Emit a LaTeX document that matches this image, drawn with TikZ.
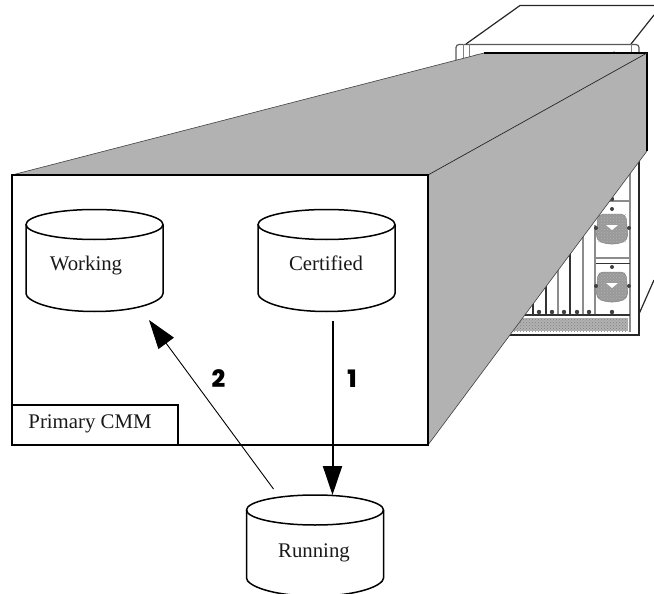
\documentclass[tikz,border=0pt]{standalone}
\usepackage{fontspec}
\setmainfont{Liberation Serif}
\newfontfamily\numfont{Poppins}[BoldFont={Poppins ExtraBold}]
\usetikzlibrary{arrows.meta,patterns,calc}
\definecolor{panelgray}{HTML}{B2B2B2}
\definecolor{spark}{HTML}{E8A060}
\newcommand{\dbdraw}[2]{%
  \draw[dbline] ($(#1.north west)+(0,15)$) -- ($(#1.south west)+(0,-#2)$)
     .. controls +(0,7) and ($(#1.south)+(-45,0)$) .. (#1.south)
     .. controls ($(#1.south)+(45,0)$) and ($(#1.south east)+(0,-#2+7)$) .. ($(#1.south east)+(0,-#2)$)
     -- ($(#1.north east)+(0,15)$);
  \draw[dbline] ($(#1.north)+(0,15)$) ellipse [x radius=68.5pt,y radius=15pt];
}
\tikzset{
  db/.style={draw=none,minimum width=137pt,inner sep=0pt,outer sep=0pt},
  dbline/.style={draw=black,line width=1.5pt},
  txt/.style={font=\fontsize{20.8}{23}\selectfont,text=black!90,inner sep=0pt,anchor=base},
  num/.style={font=\numfont\bfseries\fontsize{24}{26}\selectfont,inner sep=0pt},
  frame/.style={draw=black,line width=2pt,inner sep=0pt,outer sep=0pt},
  hwdark/.style={draw=black!80,line width=1.3pt},
  hwpale/.style={draw=black!45,line width=1.5pt},
  knob/.style={fill=black!75,draw=none},
  fan/.style={fill=black!40,draw=black!50,line width=.5pt,rounded corners=5pt},
}
\begin{document}
\begin{tikzpicture}[x=1pt,y=-1pt]
\useasboundingbox (0,0) rectangle (654,594);
% chassis
\draw[draw=black!65,line width=1.2pt,rounded corners=3pt] (456,70) -- (456,44.5) -- (639,44.5) -- (639,60);
\draw[draw=black!85,line width=1.2pt] (466,44) -- (520,5.5) -- (654,5.5);
\draw[draw=black!85,line width=1.2pt] (631,44) -- (654,15);
\draw[draw=black!50,line width=.6pt] (463,44) -- (463,60) (469,44) -- (469,60) (631,44) -- (631,60);
\draw[draw=black!85,line width=1.2pt] (639,150) -- (639,335) -- (500,335);
\draw[draw=black!85,line width=1.2pt] (639,314) -- (654,280);
\draw[hwpale] (630,150) -- (630,332);
\draw[hwpale] (600,201) -- (630,201);
\draw[hwpale] (595,258) -- (630,258);
\draw[hwdark] (595,263.5) -- (630,263.5);
\draw[hwpale] (595,225) -- (595,315);
\draw[hwpale] (583,225) -- (583,315);
\draw[hwdark] (570,250) -- (570,315);
\draw[hwpale] (558,270) -- (558,315);
\draw[hwdark] (546,285) -- (546,315);
\draw[hwdark] (533,300) -- (533,315);
\draw[hwdark] (520,315) -- (630,315);
\fill[black!30] (508,318) rectangle (628,331);
\fill[pattern=crosshatch dots,pattern color=black!50] (508,318) rectangle (628,331);
\foreach \cy in {228,286}{
  \fill[fan] (598,\cy-14) -- (626,\cy-14) -- (628,\cy+12) -- (618,\cy+16) -- (606,\cy+16) -- (596,\cy+12) -- cycle;
  \fill[pattern=crosshatch dots,pattern color=black!30] (598,\cy-14) rectangle (626,\cy+14);
  \fill[white] (606,\cy-3) -- (618,\cy-3) -- (612,\cy+2) -- cycle;
  \fill[knob] (612,\cy-19) circle (2pt);
  \fill[knob] (596,\cy) circle (2pt);
  \fill[knob] (629,\cy) circle (2pt);
}
\fill[knob] (612,312) circle (2.2pt);
\fill[knob] (612,199) circle (2.2pt);
\foreach \kx in {539,552,564,577,589}{\fill[knob] (\kx,312) circle (2.2pt);}
\fill[spark] (476,55) circle (1pt);
\fill[spark] (614,52) circle (1pt);
% shaded projection
\fill[panelgray] (12,175) -- (484,53) -- (647,53) -- (647,151) -- (428,445) -- cycle;
\draw[draw=black!75,line width=.6pt] (12,175) -- (484,53);
\draw[draw=black,line width=1.2pt] (484,53) -- (647,53) -- (647,151);
\draw[draw=black!75,line width=.6pt] (647,151) -- (428,445);
\draw[draw=black!85,line width=.7pt] (647,53) -- (428,175);
% primary CMM frame
\node[frame,fill=white,minimum width=416pt,minimum height=270pt] (cmm) at (220,310) {};
\node[frame,minimum width=166pt,minimum height=40pt] (tag) at (95,425) {};
\node[txt] (taglabel) at (90,428) {Primary CMM};
% databases
\node[db,minimum height=102pt] (working) at (94.5,260.5) {};
\node[db,minimum height=102pt] (certified) at (326.5,260.5) {};
\node[db,minimum height=101pt] (running) at (315,545.5) {};
\dbdraw{working}{18}
\dbdraw{certified}{18}
\dbdraw{running}{18}
\node[txt] (worklabel) at (86,270) {Working};
\node[txt] (certlabel) at (326,270) {Certified};
\node[txt] (runlabel) at (314,557) {Running};
% connectors
\coordinate (oneA) at (332.5,321);
\coordinate (oneB) at (332.5,495);
\coordinate (twoA) at (273.5,489);
\coordinate (twoB) at (149,320);
\draw[line width=2pt,-{Triangle[length=29pt,width=19pt]}] (oneA) -- (oneB);
\draw[line width=.9pt,-{Triangle[length=29pt,width=19pt]}] (twoA) -- (twoB);
\node[num] (one) at (352,379) {1};
\node[num] (two) at (218.5,379) {2};
\end{tikzpicture}
\end{document}
